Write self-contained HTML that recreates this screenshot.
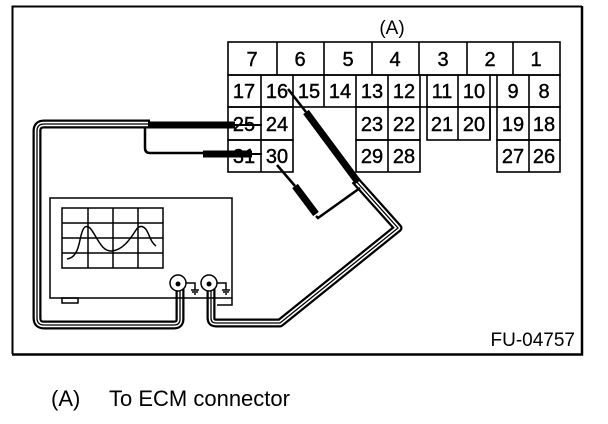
<!DOCTYPE html>
<html><head><style>
html,body{margin:0;padding:0;background:#fff;}
svg{display:block;}
text{font-family:"Liberation Sans",sans-serif;fill:#000;}
</style></head><body>
<svg width="608" height="424" viewBox="0 0 608 424" xmlns="http://www.w3.org/2000/svg">
<!-- frame -->
<path d="M12.5 354 V6.5 H582" fill="none" stroke="#000" stroke-width="2"/>
<path d="M582 6 V354.5 H12" fill="none" stroke="#000" stroke-width="2.5"/>
<text x="392" y="34" font-size="19" text-anchor="middle">(A)</text>
<g fill="none" stroke="#000" stroke-width="1.6">
<rect x="228" y="42" width="332" height="33"/>
<path d="M277 42V75M324 42V75M372 42V75M419 42V75M467 42V75M513 42V75"/>
<rect x="228" y="75" width="332" height="32"/>
<path d="M261 75V107M293 75V107M324 75V107M356 75V107M388 75V107M420 75V107M427 75V107M458 75V107M490 75V107M497 75V107M529 75V107"/>
<rect x="228" y="107" width="65" height="33"/><path d="M261 107V140"/>
<rect x="356" y="107" width="64" height="33"/><path d="M388 107V140"/>
<rect x="427" y="107" width="63" height="33"/><path d="M458 107V140"/>
<rect x="497" y="107" width="63" height="33"/><path d="M529 107V140M490 107V140"/>
<rect x="228" y="140" width="65" height="32"/><path d="M261 140V172"/>
<rect x="356" y="140" width="64" height="32"/><path d="M388 140V172"/>
<rect x="497" y="140" width="63" height="32"/><path d="M529 140V172"/>
</g>
<g font-size="20" text-anchor="middle" stroke="#000" stroke-width="0.4">
<text x="252" y="66">7</text><text x="300" y="66">6</text><text x="348" y="66">5</text><text x="395" y="66">4</text><text x="443" y="66">3</text><text x="490" y="66">2</text><text x="536" y="66">1</text>
<text x="244" y="98">17</text><text x="277" y="98">16</text><text x="309" y="98">15</text><text x="340" y="98">14</text><text x="372" y="98">13</text><text x="404" y="98">12</text><text x="442" y="98">11</text><text x="474" y="98">10</text><text x="513" y="98">9</text><text x="544" y="98">8</text>
<text x="244" y="131">25</text><text x="277" y="131">24</text><text x="372" y="131">23</text><text x="404" y="131">22</text><text x="442" y="131">21</text><text x="474" y="131">20</text><text x="513" y="131">19</text><text x="544" y="131">18</text>
<text x="244" y="163">31</text><text x="277" y="163">30</text><text x="372" y="163">29</text><text x="404" y="163">28</text><text x="513" y="163">27</text><text x="544" y="163">26</text>
</g>
<g fill="none" stroke-linejoin="round">
<path d="M150 124 H44 Q37 124 37 131 V318 Q37 325 44 325 H174 Q180 325 180 319 V284" stroke="#000" stroke-width="9"/>
<path d="M150 124 H44 Q37 124 37 131 V318 Q37 325 44 325 H174 Q180 325 180 319 V284" stroke="#fff" stroke-width="4.5"/>
<path d="M150 124 H44 Q37 124 37 131 V318 Q37 325 44 325 H174 Q180 325 180 319 V284" stroke="#000" stroke-width="1.3"/>
<path d="M355 180 L398 228 L280 323 H216 Q211 323 211 318 V284" stroke="#000" stroke-width="9"/>
<path d="M355 180 L398 228 L280 323 H216 Q211 323 211 318 V284" stroke="#fff" stroke-width="4.5"/>
<path d="M355 180 L398 228 L280 323 H216 Q211 323 211 318 V284" stroke="#000" stroke-width="1.3"/>
</g>
<path d="M148 125 H235" stroke="#000" stroke-width="7"/>
<path d="M232 125 H262" stroke="#000" stroke-width="2"/>
<path d="M145 127 V148 Q145 153 150 153 H205" fill="none" stroke="#000" stroke-width="2.5"/>
<path d="M203 154 H252" stroke="#000" stroke-width="7"/>
<path d="M250 154 H262" stroke="#000" stroke-width="2"/>
<path d="M288 89 L306 112" stroke="#000" stroke-width="2.5"/>
<path d="M306 112 L358 182" stroke="#000" stroke-width="7"/>
<path d="M277 165 L295 186" stroke="#000" stroke-width="2.5"/>
<path d="M295 186 L316 214" stroke="#000" stroke-width="7"/>
<path d="M316 216 L318 218 L360 188" fill="none" stroke="#000" stroke-width="2.5"/>
<rect x="50" y="198" width="182" height="100" fill="none" stroke="#000" stroke-width="1.5"/>
<rect x="62" y="298" width="16" height="5" fill="none" stroke="#000" stroke-width="1.5"/>
<g fill="none" stroke="#000" stroke-width="1.5">
<rect x="62" y="208" width="101" height="60"/>
<path d="M88 208V268M113 208V268M138 208V268M62 223H163M62 238H163M62 253H163"/>
<path d="M67 259 C75 258 78 250 80 240 C83 225 86 225 90 228 C97 236 101 252 112 251 C124 250 132 236 136 230 C140 224 145 226 148 233 C151 240 152 243 156 246"/>
<circle cx="178" cy="283" r="8" fill="#fff"/><circle cx="209" cy="283" r="8" fill="#fff"/>
<path d="M186 283H195V290M191 290H199M192 292H198M194 294H196"/>
<path d="M217 283H226V290M222 290H230M223 292H229M225 294H227"/>
<path d="M232 298V305H217"/>
</g>
<circle cx="178" cy="284" r="2.5"/><circle cx="209" cy="284" r="2.5"/>
<text x="575" y="346" font-size="19" text-anchor="end">FU-04757</text>
<text x="51" y="406" font-size="22">(A)</text>
<text x="109" y="406" font-size="22">To ECM connector</text>
</svg>
</body></html>
